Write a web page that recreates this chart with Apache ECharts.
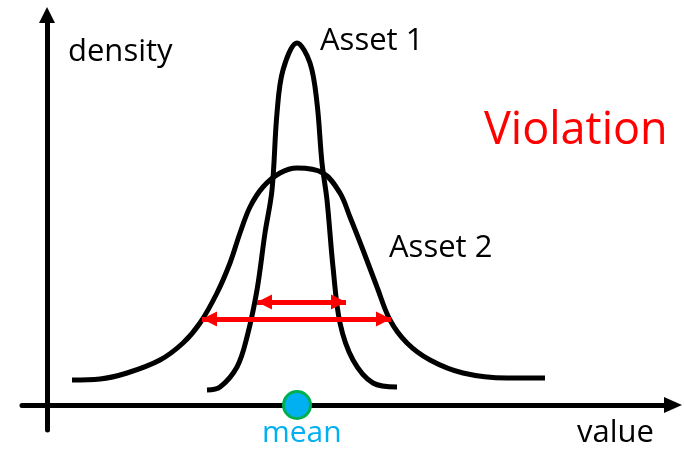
<!DOCTYPE html>
<html>
<head>
<meta charset="utf-8">
<script src="https://cdn.jsdelivr.net/npm/echarts@6/dist/echarts.min.js"></script>
<style>
html,body{margin:0;padding:0;background:#fff;}
#chart{width:684px;height:449px;}
</style>
</head>
<body>
<div id="chart"></div>
<script>
// Asset 1: narrow density curve [value, density]
var asset1 = [
  [3.20, 0.15], [3.46, 0.18], [3.80, 0.38], [4.00, 0.68], [4.20, 1.15],
  [4.36, 1.72], [4.50, 2.15], [4.60, 2.92], [4.72, 3.35], [5.00, 3.62],
  [5.26, 3.42], [5.40, 3.02], [5.50, 2.42], [5.60, 2.05], [5.72, 1.38],
  [5.86, 0.82], [6.12, 0.45], [6.52, 0.22], [7.00, 0.18]
];
// Asset 2: wide density curve
var asset2 = [
  [0.50, 0.25], [1.06, 0.26], [1.60, 0.32], [2.26, 0.45], [2.72, 0.62],
  [3.06, 0.82], [3.40, 1.12], [3.66, 1.42], [3.86, 1.72], [4.06, 1.98],
  [4.32, 2.18], [4.66, 2.32], [5.00, 2.37], [5.52, 2.32], [5.86, 2.12],
  [6.06, 1.88], [6.32, 1.55], [6.60, 1.18], [6.86, 0.85], [7.20, 0.62],
  [7.66, 0.45], [8.32, 0.32], [9.20, 0.27], [9.96, 0.27]
];
// spread arrows: [xStart, xEnd, y]
var spread1 = [4.20, 5.98, 1.03];
var spread2 = [3.10, 6.88, 0.86];
// mean point
var meanPoint = [5.0, 0];

var chart = echarts.init(document.getElementById('chart'), null, {renderer: 'canvas'});
var FONT = '"Open Sans", "Noto Sans", sans-serif';
function arrowLine(s) {
  return [{coord: [s[0], s[2]]}, {coord: [s[1], s[2]]}];
}
var option = {
  animation: false,
  backgroundColor: '#fff',
  grid: {left: 22, right: 11, top: 15, bottom: 19},
  xAxis: {
    type: 'value', min: -0.5, max: 12.52,
    axisLine: {onZero: true, symbol: ['none', 'triangle'], symbolSize: [16, 18],
      lineStyle: {color: '#000', width: 5}},
    axisTick: {show: false}, axisLabel: {show: false}, splitLine: {show: false}
  },
  yAxis: {
    type: 'value', min: -0.25, max: 3.9,
    axisLine: {onZero: true, symbol: ['none', 'triangle'], symbolSize: [16, 16],
      lineStyle: {color: '#000', width: 5}},
    axisTick: {show: false}, axisLabel: {show: false}, splitLine: {show: false}
  },
  series: [
    {
      name: 'Asset 1', type: 'line', data: asset1, smooth: 0.35,
      showSymbol: false, silent: true,
      lineStyle: {color: '#000', width: 5}
    },
    {
      name: 'Asset 2', type: 'line', data: asset2, smooth: 0.35,
      showSymbol: false, silent: true,
      lineStyle: {color: '#000', width: 5},
      markLine: {
        silent: true, symbol: ['triangle', 'triangle'], symbolSize: [15, 15],
        symbolOffset: [[0, 7.5], [0, 7.5]],
        label: {show: false},
        lineStyle: {color: '#FF0000', width: 5, type: 'solid'},
        itemStyle: {color: '#FF0000'},
        data: [arrowLine(spread1), arrowLine(spread2)]
      }
    },
    {
      name: 'mean', type: 'scatter', data: [meanPoint], symbolSize: 27, silent: true,
      z: 5,
      itemStyle: {color: '#00B0F0', borderColor: '#00B050', borderWidth: 3, opacity: 1}
    }
  ],
  graphic: [
    {type: 'text', left: 68, top: 37, style: {text: 'density', font: '31px ' + FONT, fill: '#000'}},
    {type: 'text', left: 320, top: 26, style: {text: 'Asset 1', font: '31px ' + FONT, fill: '#000'}},
    {type: 'text', left: 389, top: 233, style: {text: 'Asset 2', font: '31px ' + FONT, fill: '#000'}},
    {type: 'text', left: 484, top: 109, style: {text: 'Violation', font: '45px ' + FONT, fill: '#FF0000'}},
    {type: 'text', left: 262, top: 418, style: {text: 'mean', font: '30px ' + FONT, fill: '#00B0F0'}},
    {type: 'text', left: 577, top: 418, style: {text: 'value', font: '31px ' + FONT, fill: '#000'}}
  ]
};
chart.setOption(option);
</script>
</body>
</html>
